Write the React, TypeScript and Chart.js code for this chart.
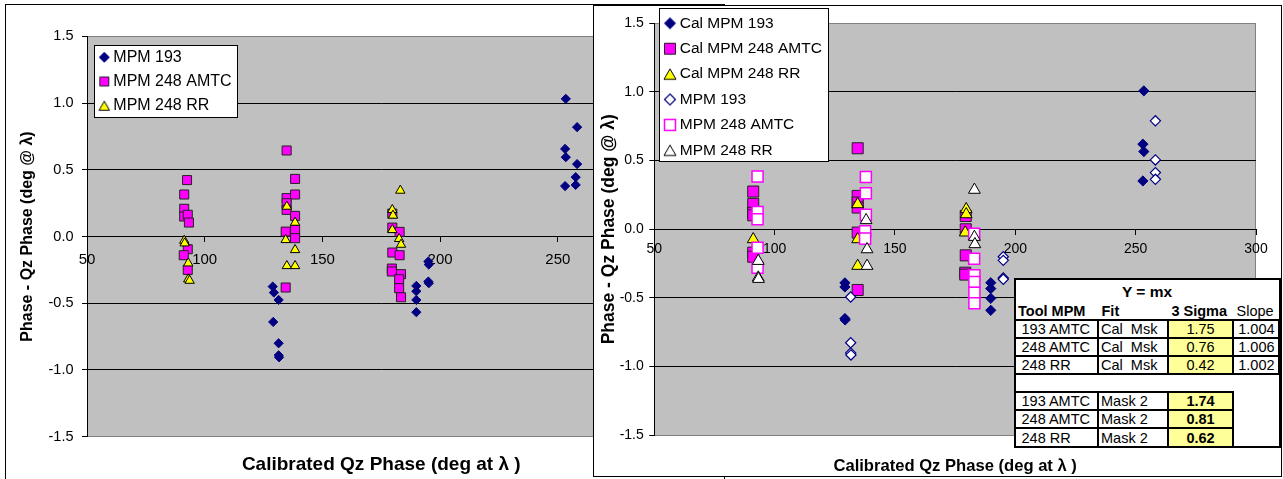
import React, { useEffect, useRef } from 'react';
import { Chart, registerables } from 'chart.js';

Chart.register(...registerables);
Chart.defaults.font.family = "'Liberation Sans', Arial, sans-serif";
Chart.defaults.color = '#000';

type P = [number, number];

// ---------------- data ----------------
const X_TICKS = [50, 100, 150, 200, 250, 300];
const Y_TICKS = [-1.5, -1.0, -0.5, 0, 0.5, 1.0, 1.5];

const LEFT_MPM193: P[] = [
  [128.9, -0.375], [129.4, -0.42], [131.4, -0.475], [129.1, -0.64], [131.4, -0.8], [131.4, -0.89], [131.6, -0.905],
  [189.9, -0.37], [189.9, -0.41], [189.9, -0.475], [189.9, -0.567], [195.0, -0.187], [195.2, -0.21], [195.0, -0.337], [195.2, -0.35],
  [253.4, 1.032], [258.2, 0.82], [253.1, 0.657], [253.4, 0.595], [258.2, 0.543], [257.6, 0.445], [257.6, 0.387], [253.1, 0.378],
];
const LEFT_MPM248AMTC: P[] = [
  [92.5, 0.423], [91.3, 0.315], [91.3, 0.208], [91.3, 0.15], [92.8, 0.163], [93.3, 0.105], [92.8, -0.095], [91.1, -0.14], [92.8, -0.25],
  [134.8, 0.645], [138.4, 0.432], [134.8, 0.288], [138.4, 0.315], [134.8, 0.25], [134.8, 0.2], [138.4, 0.155], [134.4, 0.037], [138.4, 0.05], [138.4, -0.012], [134.4, -0.382],
  [179.7, 0.172], [179.7, 0.067], [182.8, 0.035], [179.7, -0.12], [182.8, -0.14], [179.5, -0.24], [179.5, -0.262], [183.4, -0.282], [182.6, -0.32], [182.6, -0.387], [183.4, -0.455],
];
const LEFT_MPM248RR: P[] = [
  [91.3, -0.03], [91.5, -0.05], [93.0, -0.2], [93.0, -0.32], [93.6, -0.33],
  [134.9, 0.225], [138.4, 0.105], [134.4, -0.025], [138.4, -0.1], [134.9, -0.22], [138.4, -0.22],
  [183.1, 0.345], [179.7, 0.2], [180.0, 0.158], [179.7, 0.05], [182.6, -0.017], [183.4, -0.06],
];

const RIGHT_CAL193: P[] = [
  [129.2, -0.39], [129.2, -0.42], [129.2, -0.65], [129.3, -0.66],
  [189.8, -0.389], [189.8, -0.432], [189.8, -0.503], [189.8, -0.59],
  [253.4, 1.008], [253.0, 0.62], [253.4, 0.566], [253.0, 0.352],
];
const RIGHT_CAL248AMTC: P[] = [
  [91.1, 0.275], [91.1, 0.185], [91.1, 0.12], [91.1, 0.102], [91.1, -0.17], [91.1, -0.2],
  [134.5, 0.59], [134.5, 0.243], [134.5, 0.195], [134.5, 0.158], [134.5, -0.024], [134.5, -0.442],
  [179.4, 0.097], [179.4, 0.0], [179.4, -0.19], [179.2, -0.316], [179.2, -0.33],
];
const RIGHT_CAL248RR: P[] = [
  [91.1, -0.073], [134.5, 0.182], [134.5, -0.073], [134.5, -0.267], [179.6, 0.146], [179.6, 0.109], [179.2, -0.024],
];
const RIGHT_MPM193: P[] = [
  [131.6, -0.493], [131.6, -0.826], [131.6, -0.9], [131.7, -0.915],
  [195.0, -0.2], [195.0, -0.226], [195.0, -0.355], [195.0, -0.364],
  [258.2, 0.79], [258.2, 0.505], [258.2, 0.413], [258.2, 0.364],
];
const RIGHT_MPM248AMTC: P[] = [
  [92.9, 0.384], [92.9, 0.126], [92.9, 0.073], [92.9, -0.134], [92.9, -0.28],
  [137.9, 0.381], [137.9, 0.262], [137.9, 0.105], [137.6, -0.015], [137.6, -0.068],
  [182.9, -0.032], [182.9, -0.214], [183.0, -0.335], [183.0, -0.384], [183.0, -0.462], [183.0, -0.539],
];
const RIGHT_MPM248RR: P[] = [
  [93.2, -0.231], [93.2, -0.352], [93.3, -0.362], [138.0, 0.066], [138.4, -0.146], [138.4, -0.267],
  [183.0, 0.287], [183.0, -0.056], [183.2, -0.109],
];

const TABLE_TOOLS = ['193 AMTC', '248 AMTC', '248 RR'];
const CAL_FIT = 'Cal  Msk';
const MASK_FIT = 'Mask 2';
const CAL_SIGMA = ['1.75', '0.76', '0.42'];
const CAL_SLOPE = ['1.004', '1.006', '1.002'];
const MASK2_SIGMA = ['1.74', '0.81', '0.62'];

const X_TITLE = 'Calibrated Qz Phase (deg at \u03bb )';
const Y_TITLE = 'Phase - Qz Phase (deg @ \u03bb)';

// ---------------- helpers ----------------
const W = 1283;
const H = 479;

const toXY = (arr: P[]) => arr.map(([x, y]) => ({ x, y }));

function makeIcon(shape: string, size: number, fill: string, stroke: string, lw: number) {
  const c = document.createElement('canvas');
  let d = Math.ceil(size + lw + 2);
  if (d % 2) d += 1;
  c.width = d;
  c.height = d;
  const g = c.getContext('2d') as CanvasRenderingContext2D;
  const m = d / 2;
  const h = size / 2;
  g.beginPath();
  if (shape === 'diamond') {
    g.moveTo(m, m - h); g.lineTo(m + h, m); g.lineTo(m, m + h); g.lineTo(m - h, m);
  } else if (shape === 'square') {
    g.rect(m - h, m - h, size, size);
  } else {
    const th = size * 0.866;
    g.moveTo(m, m - th / 2); g.lineTo(m + h, m + th / 2); g.lineTo(m - h, m + th / 2);
  }
  g.closePath();
  g.fillStyle = fill;
  g.fill();
  g.lineWidth = lw;
  g.strokeStyle = stroke;
  g.stroke();
  return c;
}

const plotBg = {
  id: 'plotBg',
  afterLayout(chart: any, _a: any, opts: any) {
    const lg = chart.legend;
    const p = opts.legendPos;
    if (lg && p) {
      lg.left = p.x; lg.top = p.y;
      lg.width = 320; lg.height = 320;
      lg.right = p.x + 320; lg.bottom = p.y + 320;
    }
  },
  beforeDraw(chart: any, _a: any, opts: any) {
    const { ctx, chartArea: a, scales } = chart;
    const ys = scales.y;
    ctx.save();
    ctx.fillStyle = '#C0C0C0';
    ctx.fillRect(a.left, a.top, a.right - a.left, a.bottom - a.top);
    ctx.lineWidth = 1;
    ctx.strokeStyle = '#808080';
    ctx.strokeRect(Math.round(a.left) + 0.5, Math.round(a.top) + 0.5, Math.round(a.right - a.left) - 1, Math.round(a.bottom - a.top));
    ctx.strokeStyle = '#000';
    ys.ticks.forEach((t: any) => {
      if (t.value <= ys.min || t.value >= ys.max) return;
      const py = Math.round(ys.getPixelForValue(t.value) - 0.5) + 0.5;
      ctx.beginPath();
      ctx.moveTo(a.left, py);
      ctx.lineTo(a.right, py);
      ctx.stroke();
    });
    const b = opts.box;
    if (b) {
      ctx.fillStyle = '#fff';
      ctx.fillRect(b.x, b.y, b.w, b.h);
      ctx.strokeStyle = '#000';
      ctx.strokeRect(b.x + 0.5, b.y + 0.5, b.w - 1, b.h - 1);
    }
    ctx.restore();
  },
};

interface Side {
  padLeft: number; padTop: number; right: number; yWidth: number;
  yTickSize: number; yTickPad: number; xTickSize: number; xTickPad: number;
  yTitleSize: number; yTitlePad: number; xTitleSize: number; xTitlePad: { top: number; bottom: number };
  legendSize: number; legendPad: number; legendBoxW: number; legendPos: { x: number; y: number };
  box: { x: number; y: number; w: number; h: number };
}

function buildConfig(datasets: any[], icons: HTMLCanvasElement[], s: Side): any {
  return {
    type: 'scatter',
    data: { datasets },
    plugins: [plotBg],
    options: {
      responsive: false,
      maintainAspectRatio: false,
      animation: false,
      events: [],
      layout: { padding: { left: s.padLeft, top: s.padTop, right: W - s.right, bottom: 0 } },
      scales: {
        x: {
          type: 'linear',
          position: { y: 0 },
          min: X_TICKS[0],
          max: X_TICKS[X_TICKS.length - 1],
          afterBuildTicks: (sc: any) => { sc.ticks = X_TICKS.map((v) => ({ value: v })); },
          ticks: {
            color: '#000', font: { size: s.xTickSize }, padding: s.xTickPad,
            maxRotation: 0, autoSkip: false, callback: (v: any) => String(v),
          },
          grid: { drawOnChartArea: false, drawTicks: true, tickLength: 5, tickColor: '#000', color: '#000' },
          border: { display: true, color: '#000', width: 1 },
        },
        y: {
          type: 'linear',
          position: 'left',
          min: Y_TICKS[0],
          max: Y_TICKS[Y_TICKS.length - 1],
          afterBuildTicks: (sc: any) => { sc.ticks = Y_TICKS.map((v) => ({ value: v })); },
          afterFit: (sc: any) => { sc.width = s.yWidth; },
          ticks: {
            color: '#000', font: { size: s.yTickSize }, padding: s.yTickPad,
            callback: (v: any) => Number(v).toFixed(1),
          },
          grid: { drawOnChartArea: false, drawTicks: true, tickLength: 5, tickColor: '#000', color: '#000' },
          border: { display: true, color: '#000', width: 1 },
          title: {
            display: true, text: Y_TITLE, color: '#000',
            font: { size: s.yTitleSize, weight: 'bold' },
            padding: { top: s.yTitlePad, bottom: 0 },
          },
        },
      },
      plugins: {
        tooltip: { enabled: false },
        title: {
          display: true, position: 'bottom', fullSize: false, text: X_TITLE, color: '#000',
          font: { size: s.xTitleSize, weight: 'bold' }, padding: s.xTitlePad,
        },
        legend: {
          display: true,
          position: 'chartArea',
          align: 'start',
          labels: {
            usePointStyle: true,
            boxWidth: s.legendBoxW,
            padding: s.legendPad,
            color: '#000',
            font: { size: s.legendSize },
            generateLabels: (chart: any) =>
              chart.data.datasets.map((ds: any, i: number) => ({
                text: ds.label, pointStyle: icons[i], fillStyle: 'rgba(0,0,0,0)', strokeStyle: 'rgba(0,0,0,0)',
                lineWidth: 1, hidden: false, datasetIndex: i, fontColor: '#000',
              })),
          },
        },
        plotBg: { box: s.box, legendPos: s.legendPos },
      },
    },
  };
}

function ds(label: string, data: P[], style: string, r: number, bg: string, bd: string, bw: number, order: number) {
  return {
    label, data: toXY(data), showLine: false, pointStyle: style, pointRadius: r, pointHoverRadius: r,
    pointBackgroundColor: bg, pointBorderColor: bd, pointBorderWidth: bw, pointHoverBorderWidth: bw,
    backgroundColor: bg, borderColor: bd, order,
  };
}

function Txt(p: { x: number; y: number; t: string; bold?: boolean; size?: number; anchor?: 'start' | 'middle' | 'end' }) {
  const tx = p.anchor === 'middle' ? '-50%' : p.anchor === 'end' ? '-100%' : '0';
  return (
    <div style={{
      position: 'absolute', left: p.x, top: p.y, transform: `translate(${tx}, -50%)`, whiteSpace: 'pre',
      fontFamily: "'Liberation Sans', Arial, sans-serif", fontSize: p.size || 14.5, fontWeight: p.bold ? 'bold' : 'normal',
      lineHeight: 'normal', color: '#000', zIndex: 5,
    }}>{p.t}</div>
  );
}

function Box(p: { x0: number; x1: number; y0: number; y1: number; bg?: string }) {
  return (
    <div style={{
      position: 'absolute', left: p.x0 - 1, top: p.y0 - 1, width: p.x1 - p.x0 + 2, height: p.y1 - p.y0 + 2,
      border: '2px solid #000', boxSizing: 'border-box', background: p.bg || '#fff', zIndex: 4,
    }} />
  );
}

export default function App() {
  const leftRef = useRef<HTMLCanvasElement>(null);
  const rightRef = useRef<HTMLCanvasElement>(null);

  useEffect(() => {
    const navy = '#000080', mag = '#FF00FF', yel = '#FFFF00';
    const leftIcons = [
      makeIcon('diamond', 10, navy, navy, 1),
      makeIcon('square', 9, mag, '#222', 1),
      makeIcon('triangle', 10.5, yel, '#000', 1),
    ];
    const rightIcons = [
      makeIcon('diamond', 11, navy, navy, 1),
      makeIcon('square', 11, mag, '#222', 1),
      makeIcon('triangle', 12, yel, '#000', 1),
      makeIcon('diamond', 11, '#fff', navy, 1.2),
      makeIcon('square', 11, '#fff', mag, 1.5),
      makeIcon('triangle', 12, '#fff', '#000', 1),
    ];
    const leftDs = [
      ds('MPM 193', LEFT_MPM193, 'rectRot', 4.6, navy, navy, 1, 3),
      ds('MPM 248 AMTC', LEFT_MPM248AMTC, 'rect', 6.4, mag, '#222', 1, 2),
      ds('MPM 248 RR', LEFT_MPM248RR, 'triangle', 5.4, yel, '#000', 1, 1),
    ];
    const rightDs = [
      ds('Cal MPM 193', RIGHT_CAL193, 'rectRot', 5.1, navy, navy, 1, 6),
      ds('Cal MPM 248 AMTC', RIGHT_CAL248AMTC, 'rect', 7.8, mag, '#222', 1, 5),
      ds('Cal MPM 248 RR', RIGHT_CAL248RR, 'triangle', 6.8, yel, '#000', 1, 4),
      ds('MPM 193', RIGHT_MPM193, 'rectRot', 5.1, '#fff', navy, 1.2, 3),
      ds('MPM 248 AMTC', RIGHT_MPM248AMTC, 'rect', 7.8, '#fff', mag, 1.5, 2),
      ds('MPM 248 RR', RIGHT_MPM248RR, 'triangle', 6.8, '#fff', '#000', 1, 1),
    ];
    const leftSide: Side = {
      padLeft: 0, padTop: 36.4, right: 675.5, yWidth: 87,
      yTickSize: 14.5, yTickPad: 8.5, xTickSize: 15, xTickPad: 9.3,
      yTitleSize: 16, yTitlePad: 18.4, xTitleSize: 19, xTitlePad: { top: 16.9, bottom: 2.6 },
      legendSize: 16, legendPad: 8.2, legendBoxW: 2, legendPos: { x: 95.1, y: 41.1 },
      box: { x: 94, y: 45, w: 144, h: 73 },
    };
    const rightSide: Side = {
      padLeft: 594, padTop: 23.3, right: 1256, yWidth: 60.3,
      yTickSize: 14, yTickPad: 5.5, xTickSize: 14, xTickPad: 6.6,
      yTitleSize: 17.5, yTitlePad: 5, xTitleSize: 16.6, xTitlePad: { top: 20.7, bottom: 3.1 },
      legendSize: 15.5, legendPad: 9.9, legendBoxW: 4, legendPos: { x: 658.1, y: 5.65 },
      box: { x: 659, y: 8, w: 170, h: 154 },
    };
    const c1 = new Chart(leftRef.current as HTMLCanvasElement, buildConfig(leftDs, leftIcons, leftSide));
    const c2 = new Chart(rightRef.current as HTMLCanvasElement, buildConfig(rightDs, rightIcons, rightSide));
    return () => { c1.destroy(); c2.destroy(); };
  }, []);

  const X = [1015, 1097.7, 1167.7, 1233.3, 1279.5];
  const Y1 = [320, 338.3, 356, 374];
  const Y2 = [391.7, 410, 428.3, 446.7];
  const yellow = '#FFFF99';

  return (
    <div style={{ position: 'fixed', left: 0, top: 0, width: W, height: H, background: '#fff', overflow: 'hidden' }}>
      <div style={{ position: 'absolute', left: 5, top: 4, width: 720, height: 520, border: '1px solid #000', boxSizing: 'border-box', zIndex: 0 }} />
      <canvas ref={leftRef} width={W} height={H} style={{ position: 'absolute', left: 0, top: 0, width: W, height: H, zIndex: 1 }} />
      <div style={{ position: 'absolute', left: 593, top: 5, width: 689, height: 472, border: '1px solid #000', boxSizing: 'border-box', background: '#fff', zIndex: 2 }} />
      <canvas ref={rightRef} width={W} height={H} style={{ position: 'absolute', left: 0, top: 0, width: W, height: H, zIndex: 3 }} />

      <div style={{ position: 'absolute', left: 1014, top: 278, width: 267, height: 170, border: '2px solid #000', boxSizing: 'border-box', background: '#fff', zIndex: 4 }} />
      <Txt x={1147} y={292} t="Y = mx" bold size={15.5} anchor="middle" />
      <Txt x={1018} y={311} t="Tool MPM" bold />
      <Txt x={1101.5} y={311} t="Fit" bold />
      <Txt x={1227} y={311} t="3 Sigma" bold anchor="end" />
      <Txt x={1236.5} y={311} t="Slope" />
      {TABLE_TOOLS.map((tool, i) => {
        const y0 = Y1[i], y1 = Y1[i + 1], cy = (y0 + y1) / 2;
        return (
          <React.Fragment key={'a' + i}>
            <Box x0={X[0]} x1={X[1]} y0={y0} y1={y1} />
            <Box x0={X[1]} x1={X[2]} y0={y0} y1={y1} />
            <Box x0={X[2]} x1={X[3]} y0={y0} y1={y1} bg={yellow} />
            <Box x0={X[3]} x1={X[4]} y0={y0} y1={y1} />
            <Txt x={1021.5} y={cy} t={tool} />
            <Txt x={1101} y={cy} t={CAL_FIT} />
            <Txt x={(X[2] + X[3]) / 2} y={cy} t={CAL_SIGMA[i]} anchor="middle" />
            <Txt x={(X[3] + X[4]) / 2} y={cy} t={CAL_SLOPE[i]} anchor="middle" />
          </React.Fragment>
        );
      })}
      {TABLE_TOOLS.map((tool, i) => {
        const y0 = Y2[i], y1 = Y2[i + 1], cy = (y0 + y1) / 2;
        return (
          <React.Fragment key={'b' + i}>
            <Box x0={X[0]} x1={X[1]} y0={y0} y1={y1} />
            <Box x0={X[1]} x1={X[2]} y0={y0} y1={y1} />
            <Box x0={X[2]} x1={X[3]} y0={y0} y1={y1} bg={yellow} />
            <Txt x={1021.5} y={cy} t={tool} />
            <Txt x={1101} y={cy} t={MASK_FIT} />
            <Txt x={(X[2] + X[3]) / 2} y={cy} t={MASK2_SIGMA[i]} bold anchor="middle" />
          </React.Fragment>
        );
      })}
    </div>
  );
}
